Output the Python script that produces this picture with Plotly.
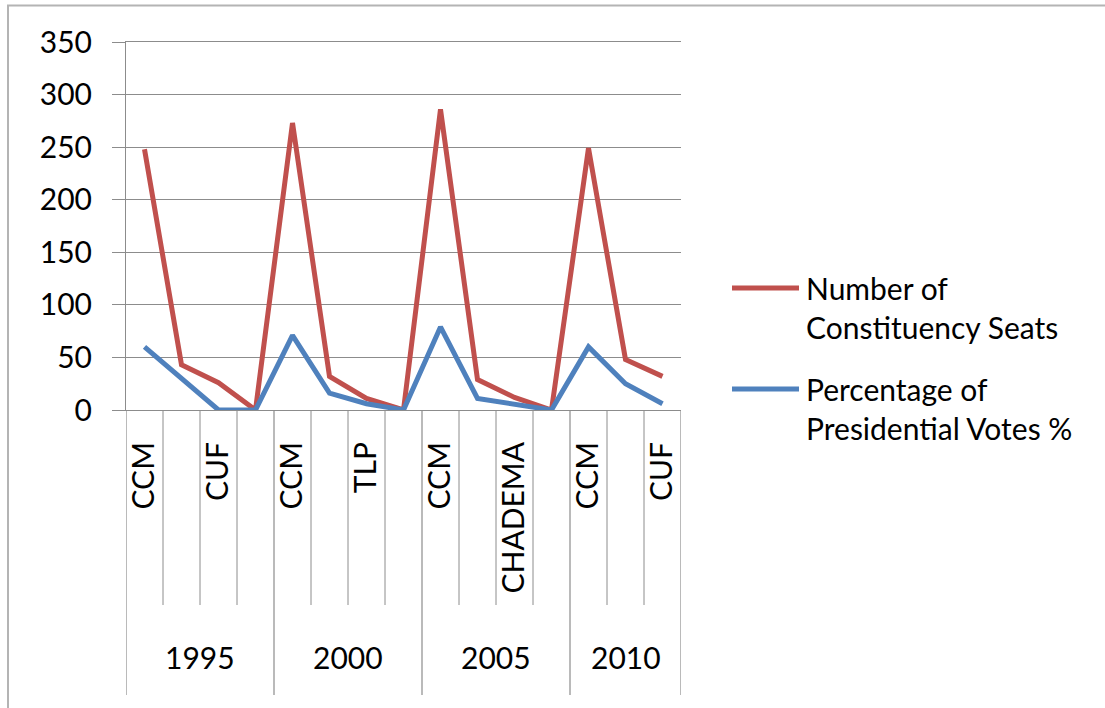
import plotly.graph_objects as go

# ---------------- data ----------------
years = ["1995", "2000", "2005", "2010"]
parties_1995 = ["CCM", "", "CUF", ""]
parties_2000 = ["CCM", "", "TLP", ""]
parties_2005 = ["CCM", "", "CHADEMA", ""]
parties_2010 = ["CCM", "", "CUF"]
party_groups = [parties_1995, parties_2000, parties_2005, parties_2010]

seats = [248, 43, 26, 0, 273, 32, 11, 0, 286, 29, 12, 0, 249, 48, 32]
votes = [60, 30, 0, 0, 71, 16, 6, 0, 79, 11, 5, 0, 60, 25, 6]

seats_name = ["Number of", "Constituency Seats"]
votes_name = ["Percentage of", "Presidential Votes %"]

y_ticks = [0, 50, 100, 150, 200, 250, 300, 350]

# ---------------- styling / layout ----------------
RED = "#C0504D"
BLUE = "#4F81BD"
GRID = "#8C8C8C"
FONT = "Lato"
FS = 30

W, H = 1105, 708
L, R, T, B = 126, 424, 42, 298
PW, PH = W - L - R, H - T - B


def px(p):
    return (p - L) / PW


def py(p):
    return (H - B - p) / PH


party_labels = [p for g in party_groups for p in g]
xs = list(range(len(party_labels)))

fig = go.Figure()
fig.add_trace(go.Scatter(x=xs, y=seats, mode="lines", name=" ".join(seats_name),
                         line=dict(color=RED, width=5), showlegend=False))
fig.add_trace(go.Scatter(x=xs, y=votes, mode="lines", name=" ".join(votes_name),
                         line=dict(color=BLUE, width=5), showlegend=False))

shapes = []
annotations = []

# category / group separators below the x axis
edges = [-0.5]
for g in party_groups:
    edges.append(edges[-1] + len(g))
group_edges = set(edges)
for k in range(1, len(party_labels)):
    xb = k - 0.5
    if xb in group_edges:
        continue
    shapes.append(dict(type="line", xref="x", yref="paper", x0=xb, x1=xb,
                       y0=0, y1=py(605), line=dict(color=GRID, width=1)))
for xb in edges:
    shapes.append(dict(type="line", xref="x", yref="paper", x0=xb, x1=xb,
                       y0=0, y1=py(695), line=dict(color=GRID, width=1.2)))

# year labels
for i, yr in enumerate(years):
    c = (edges[i] + edges[i + 1]) / 2
    annotations.append(dict(x=c, y=py(657), xref="x", yref="paper", text=yr,
                            showarrow=False, xanchor="center", yanchor="middle",
                            font=dict(family=FONT, size=FS, color="black")))

# manual legend
for name_lines, color, ly in [(seats_name, RED, 288), (votes_name, BLUE, 389)]:
    shapes.append(dict(type="line", xref="paper", yref="paper",
                       x0=px(732), x1=px(799), y0=py(ly), y1=py(ly),
                       line=dict(color=color, width=5)))
    for j, txt in enumerate(name_lines):
        annotations.append(dict(x=px(804), y=py(ly + 39 * j), xref="paper", yref="paper",
                                text=txt, showarrow=False, xanchor="left", yanchor="middle",
                                font=dict(family=FONT, size=FS, color="black")))

# outer chart border
shapes.append(dict(type="rect", xref="paper", yref="paper",
                   x0=px(8), x1=px(1115), y0=py(718), y1=py(5.5),
                   line=dict(color="#B4B4B4", width=2), fillcolor="rgba(0,0,0,0)"))

fig.update_layout(
    width=W, height=H,
    margin=dict(l=L, r=R, t=T, b=B, pad=0),
    paper_bgcolor="white", plot_bgcolor="white",
    font=dict(family=FONT, size=FS, color="black"),
    shapes=shapes, annotations=annotations,
    xaxis=dict(range=[-0.5, len(party_labels) - 0.5], tickmode="array", tickvals=xs,
               ticktext=party_labels, tickangle=-90, ticks="", showgrid=False,
               zeroline=False, showline=True, linecolor=GRID, linewidth=1,
               mirror=True, ticklabelstandoff=19,
               tickfont=dict(family=FONT, size=FS, color="black")),
    yaxis=dict(range=[0, 350], tickmode="array", tickvals=y_ticks,
               showgrid=True, gridcolor=GRID, gridwidth=1, zeroline=False,
               showline=True, linecolor=GRID, linewidth=1, ticks="outside",
               ticklen=13, tickcolor=GRID, tickwidth=1, ticklabelstandoff=14,
               tickfont=dict(family=FONT, size=FS, color="black")),
)

fig.write_html("out.html")
